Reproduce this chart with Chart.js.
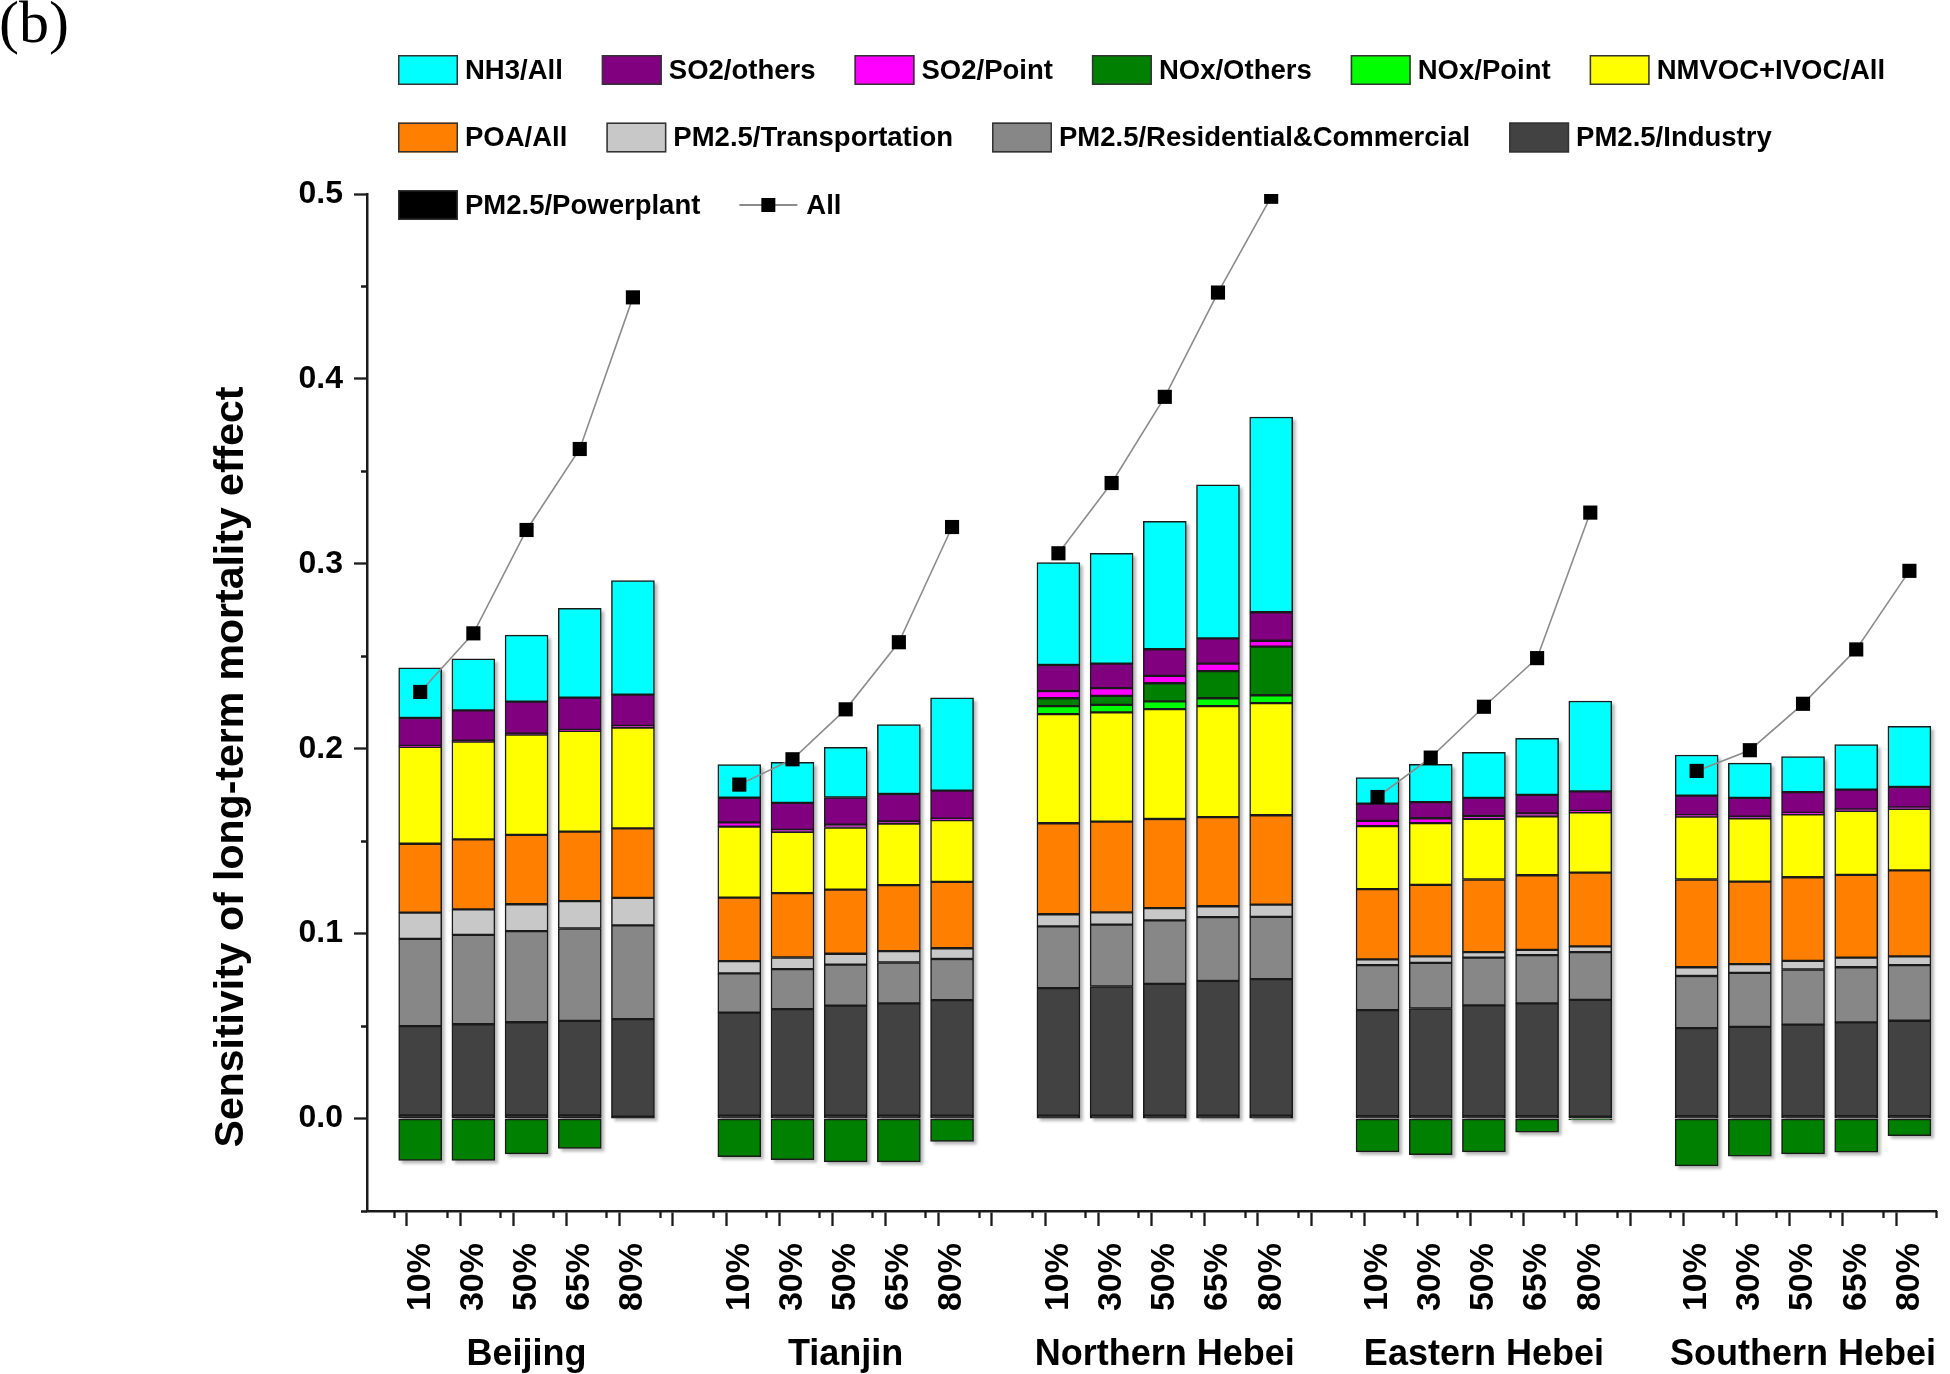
<!DOCTYPE html>
<html>
<head>
<meta charset="utf-8">
<script src="https://cdn.jsdelivr.net/npm/chart.js"></script>
<style>
html,body{margin:0;padding:0;background:#ffffff;}
canvas{display:block;}
</style>
</head>
<body>
<canvas id="c" width="1950" height="1374"></canvas>
<script>
// ---------------- DATA ----------------
const regions = ['Beijing', 'Tianjin', 'Northern Hebei', 'Eastern Hebei', 'Southern Hebei'];
const scenarios = ['10%', '30%', '50%', '65%', '80%'];
const yTickLabels = ['0.0', '0.1', '0.2', '0.3', '0.4', '0.5'];

// order of values: Beijing(5), Tianjin(5), Northern Hebei(5), Eastern Hebei(5), Southern Hebei(5)
const pm25Powerplant = [0.0017,0.0017,0.0017,0.0017,0.0010, 0.0016,0.0016,0.0016,0.0016,0.0016, 0.0015,0.0015,0.0015,0.0015,0.0015, 0.0013,0.0013,0.0013,0.0013,0.0010, 0.0013,0.0013,0.0013,0.0013,0.0013];
const pm25Industry = [0.0483,0.0493,0.0504,0.0511,0.0528, 0.0557,0.0576,0.0595,0.0607,0.0624, 0.0690,0.0699,0.0713,0.0729,0.0739, 0.0573,0.0582,0.0599,0.0610,0.0632, 0.0476,0.0483,0.0495,0.0507,0.0516];
const pm25Residential = [0.0472,0.0483,0.0493,0.0500,0.0507, 0.0212,0.0216,0.0221,0.0221,0.0223, 0.0334,0.0335,0.0344,0.0345,0.0337, 0.0244,0.0247,0.0258,0.0261,0.0258, 0.0282,0.0292,0.0298,0.0298,0.0301];
const pm25Transportation = [0.0142,0.0138,0.0145,0.0148,0.0148, 0.0066,0.0063,0.0059,0.0061,0.0058, 0.0066,0.0066,0.0066,0.0059,0.0066, 0.0031,0.0035,0.0030,0.0028,0.0031, 0.0047,0.0047,0.0047,0.0052,0.0047];
const poaAll = [0.0372,0.0379,0.0375,0.0376,0.0376, 0.0344,0.0348,0.0347,0.0357,0.0359, 0.0492,0.0491,0.0482,0.0482,0.0483, 0.0380,0.0387,0.0393,0.0404,0.0399, 0.0475,0.0446,0.0452,0.0448,0.0465];
const nmvocIvocAll = [0.0524,0.0528,0.0542,0.0545,0.0545, 0.0384,0.0332,0.0336,0.0333,0.0334, 0.0590,0.0591,0.0594,0.0600,0.0607, 0.0340,0.0334,0.0328,0.0319,0.0326, 0.0340,0.0343,0.0340,0.0346,0.0333];
const noxPoint = [0,0,0,0,0, 0,0,0,0,0, 0.0043,0.0040,0.0042,0.0043,0.0042, 0,0,0,0,0, 0,0,0,0,0];
const noxOthers = [-0.0227,-0.0227,-0.0191,-0.0162,0, -0.0206,-0.0222,-0.0234,-0.0234,-0.0124, 0.0043,0.0049,0.0098,0.0147,0.0263, -0.0180,-0.0196,-0.0180,-0.0074,-0.0008, -0.0256,-0.0203,-0.0191,-0.0182,-0.0092];
const so2Point = [0.0005,0.0005,0.0005,0.0005,0.0010, 0.0023,0.0010,0.0015,0.0012,0.0008, 0.0039,0.0042,0.0040,0.0040,0.0032, 0.0029,0.0026,0.0015,0.0015,0.0008, 0.0008,0.0008,0.0008,0.0008,0.0008];
const so2Others = [0.0151,0.0164,0.0174,0.0174,0.0169, 0.0133,0.0146,0.0147,0.0148,0.0151, 0.0141,0.0132,0.0144,0.0137,0.0154, 0.0093,0.0087,0.0098,0.0100,0.0105, 0.0105,0.0102,0.0112,0.0107,0.0110];
const nh3All = [0.0272,0.0279,0.0359,0.0483,0.0617, 0.0179,0.0219,0.0272,0.0376,0.0502, 0.0554,0.0597,0.0692,0.0830,0.1056, 0.0141,0.0204,0.0247,0.0306,0.0489, 0.0220,0.0188,0.0192,0.0244,0.0328];
const allTotal = [0.2307,0.2624,0.3183,0.3621,0.4441, 0.1806,0.1943,0.2213,0.2576,0.3199, 0.3057,0.3437,0.3903,0.4467,0.4985, 0.1739,0.1952,0.2227,0.2490,0.3277, 0.1880,0.1992,0.2243,0.2537,0.2962];

// ---------------- HELPERS ----------------
const SLOTS = scenarios.length + 1;               // one empty slot between regions
const xPos = i => Math.floor(i / scenarios.length) * SLOTS + (i % scenarios.length) + 1;
const toXY = arr => arr.map((v, i) => ({x: xPos(i), y: v}));
const X_MAX = regions.length * SLOTS - 0.5;

const allLine = [];
allTotal.forEach((v, i) => {
  allLine.push({x: xPos(i), y: v});
  if (i % scenarios.length === scenarios.length - 1 && i < allTotal.length - 1) allLine.push({x: xPos(i) + 1, y: null});
});

const FONT = "'Liberation Sans', Arial, Helvetica, sans-serif";
Chart.defaults.font.family = FONT;
Chart.defaults.color = '#000';

const EDGE = '#1a1a1a';
function bar(label, arr, color) {
  return {type: 'bar', label, data: toXY(arr), backgroundColor: color, borderColor: EDGE,
          borderWidth: 1.5, borderSkipped: false, barThickness: 43, order: 1};
}

const datasets = [
  {type: 'line', label: 'All', data: allLine, borderColor: '#8c8c8c', borderWidth: 1.6,
   pointStyle: 'rect', pointRadius: 10, pointHoverRadius: 10, pointBackgroundColor: '#000',
   pointBorderColor: '#000', pointBorderWidth: 0, fill: false, tension: 0, spanGaps: false, order: 0},
  bar('PM2.5/Powerplant', pm25Powerplant, '#000000'),
  bar('PM2.5/Industry', pm25Industry, '#424242'),
  bar('PM2.5/Residential&Commercial', pm25Residential, '#878787'),
  bar('PM2.5/Transportation', pm25Transportation, '#c8c8c8'),
  bar('POA/All', poaAll, '#ff8000'),
  bar('NMVOC+IVOC/All', nmvocIvocAll, '#ffff00'),
  bar('NOx/Point', noxPoint, '#00ff00'),
  bar('NOx/Others', noxOthers, '#008000'),
  bar('SO2/Point', so2Point, '#ff00ff'),
  bar('SO2/others', so2Others, '#800080'),
  bar('NH3/All', nh3All, '#00ffff')
];

const legendRows = [
  ['NH3/All', 'SO2/others', 'SO2/Point', 'NOx/Others', 'NOx/Point', 'NMVOC+IVOC/All'],
  ['POA/All', 'PM2.5/Transportation', 'PM2.5/Residential&Commercial', 'PM2.5/Industry'],
  ['PM2.5/Powerplant', 'All']
];

// ---------------- PLUGINS ----------------
const barShadow = {
  id: 'barShadow',
  beforeDatasetsDraw(chart) {
    const ctx = chart.ctx;
    const metas = chart.getSortedVisibleDatasetMetas().filter(m => m.type === 'bar');
    if (!metas.length) return;
    const n = metas[0].data.length;
    ctx.save();
    ctx.fillStyle = 'rgba(0,0,0,0.28)';
    ctx.filter = 'blur(1.5px)';
    for (let i = 0; i < n; i++) {
      let top = Infinity, bot = -Infinity, x = 0, w = 0;
      metas.forEach(m => {
        const el = m.data[i];
        if (!el) return;
        const p = el.getProps(['x', 'y', 'base', 'width'], true);
        x = p.x; w = p.width;
        top = Math.min(top, p.y, p.base);
        bot = Math.max(bot, p.y, p.base);
      });
      ctx.fillRect(x - w / 2 + 3, top + 3, w, bot - top);
    }
    ctx.restore();
  }
};

const decorations = {
  id: 'decorations',
  afterDraw(chart) {
    const ctx = chart.ctx;
    const xs = chart.scales.x, ys = chart.scales.y;
    const ca = chart.chartArea;
    ctx.save();
    // minor ticks
    ctx.strokeStyle = EDGE;
    ctx.lineWidth = 2.3;
    ctx.beginPath();
    ys.ticks.forEach(t => {
      const k = Math.round(t.value * 20);
      if (k >= 0 && k % 2 === 0) return;
      const py = Math.round(ys.getPixelForValue(t.value)) + 0.5;
      ctx.moveTo(ca.left - 6, py); ctx.lineTo(ca.left, py);
    });
    xs.ticks.forEach(t => {
      if (Math.round(t.value * 2) % 2 === 0) return;
      const px = Math.round(xs.getPixelForValue(t.value)) + 0.5;
      ctx.moveTo(px, ca.bottom); ctx.lineTo(px, ca.bottom + 7);
    });
    ctx.stroke();

    // region labels
    ctx.fillStyle = '#000';
    ctx.font = 'bold 36px ' + FONT;
    ctx.textAlign = 'center';
    ctx.textBaseline = 'middle';
    regions.forEach((r, g) => {
      const cx = xs.getPixelForValue(g * SLOTS + (scenarios.length + 1) / 2);
      ctx.fillText(r, cx, 1355);
    });

    // y-axis title
    ctx.save();
    ctx.translate(232, 767);
    ctx.rotate(-Math.PI / 2);
    ctx.font = 'bold 41px ' + FONT;
    ctx.fillText('Sensitivity of long-term mortality effect', 0, 0);
    ctx.restore();

    // panel tag
    ctx.font = '60px "Liberation Serif", "Times New Roman", serif';
    ctx.textAlign = 'left';
    ctx.textBaseline = 'alphabetic';
    ctx.fillText('(b)', -1, 42);

    // legend
    const rowY = [70, 137.5, 205];
    ctx.font = 'bold 27.5px ' + FONT;
    ctx.textBaseline = 'middle';
    legendRows.forEach((row, r) => {
      let x = 398;
      const y = rowY[r];
      row.forEach(label => {
        const ds = chart.data.datasets.find(d => d.label === label);
        if (ds.type === 'line') {
          ctx.strokeStyle = ds.borderColor;
          ctx.lineWidth = 2;
          ctx.beginPath(); ctx.moveTo(x, y); ctx.lineTo(x + 58, y); ctx.stroke();
          ctx.fillStyle = '#000';
          ctx.fillRect(x + 22, y - 7, 14, 14);
          ctx.fillText(label, x + 67, y + 1);
          x += 67 + ctx.measureText(label).width + 39;
        } else {
          ctx.fillStyle = ds.backgroundColor;
          ctx.fillRect(x, y - 15, 60, 30);
          ctx.strokeStyle = '#333';
          ctx.lineWidth = 1.5;
          ctx.strokeRect(x + 0.75, y - 14.25, 58.5, 28.5);
          ctx.fillStyle = '#000';
          ctx.fillText(label, x + 67, y + 1);
          x += 67 + ctx.measureText(label).width + 39;
        }
      });
    });
    ctx.restore();
  }
};

// ---------------- CHART ----------------
new Chart(document.getElementById('c'), {
  type: 'bar',
  data: {datasets},
  plugins: [barShadow, decorations],
  options: {
    responsive: false,
    animation: false,
    devicePixelRatio: 1,
    layout: {padding: {top: 194, right: 14, bottom: 0, left: 0}},
    plugins: {legend: {display: false}, tooltip: {enabled: false}},
    scales: {
      x: {
        type: 'linear', min: 0, max: X_MAX, stacked: true, offset: false,
        afterBuildTicks: s => {
          const t = [];
          for (let k = 0; k <= X_MAX * 2; k++) t.push({value: k / 2});
          s.ticks = t;
        },
        afterFit: s => { s.height = 163; s.paddingLeft = 0; s.paddingRight = 0; },
        grid: {
          drawOnChartArea: false, drawTicks: true, tickLength: 15, tickWidth: 2.3,
          tickColor: c => (c.tick && Math.round(c.tick.value * 2) % 2 === 0) ? EDGE : 'rgba(0,0,0,0)'
        },
        border: {display: true, color: EDGE, width: 2.5},
        ticks: {
          autoSkip: false, maxRotation: 90, minRotation: 90, padding: 17,
          color: '#000', font: {size: 34, weight: 'bold'},
          callback: v => {
            const h = Math.round(v * 2);
            if (h % 2 !== 0) return '';
            const s = (h / 2) % SLOTS;
            return s === 0 ? '' : scenarios[s - 1];
          }
        }
      },
      y: {
        type: 'linear', min: -0.05, max: 0.5, stacked: true,
        afterBuildTicks: s => {
          const t = [];
          for (let k = -1; k <= 10; k++) t.push({value: k * 0.05});
          s.ticks = t;
        },
        afterFit: s => { s.width = 367; s.paddingTop = 0; s.paddingBottom = 0; },
        grid: {
          drawOnChartArea: false, drawTicks: true, tickLength: 13, tickWidth: 2.3,
          tickColor: c => {
            if (!c.tick) return EDGE;
            const k = Math.round(c.tick.value * 20);
            return (k >= 0 && k % 2 === 0) ? EDGE : 'rgba(0,0,0,0)';
          }
        },
        border: {display: true, color: EDGE, width: 2.5},
        ticks: {
          padding: 11, color: '#000', font: {size: 32, weight: 'bold'},
          callback: v => {
            const k = Math.round(v * 20);
            return (k >= 0 && k % 2 === 0) ? yTickLabels[k / 2] : '';
          }
        }
      }
    }
  }
});
</script>
</body>
</html>
